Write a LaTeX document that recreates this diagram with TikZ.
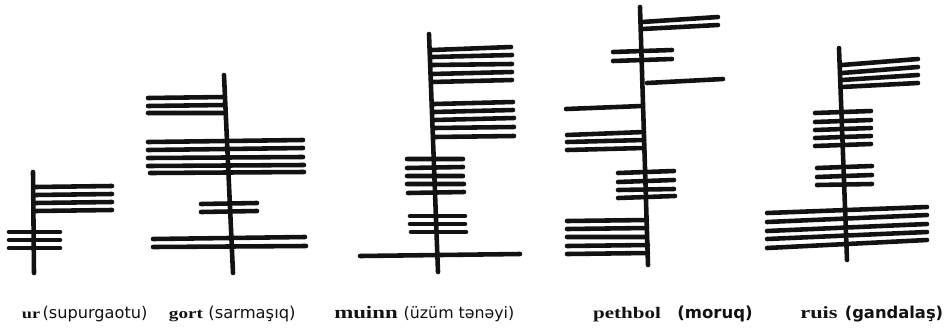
\documentclass[tikz,border=0pt]{standalone}
\usepackage{fontspec}
\usepackage{tikz}
\usetikzlibrary{calc}
\newfontfamily\adfont[FakeStretch=1.3]{Liberation Serif}
\newfontfamily\izahfont{DejaVu Sans}
\definecolor{murekkeb}{RGB}{18,18,18}
\tikzset{
	cizgi/.style={line width=2.6pt, line cap=round},
	ad/.style={font={\fontsize{#1}{#1}\selectfont\adfont\bfseries}, anchor=base, inner sep=0pt},
	izah/.style={font={\fontsize{#1}{#1}\selectfont\izahfont}, anchor=base, inner sep=0pt},
	izahb/.style={font={\fontsize{#1}{#1}\selectfont\izahfont\bfseries}, anchor=base, inner sep=0pt}
}

\begin{document}
\begin{tikzpicture}[murekkeb, x=0.02cm, y=-0.02cm]

    \useasboundingbox (0, 0) rectangle (944, 329);

				% ur
				\draw[cizgi] (33, 172) -- (34, 273);
				\draw[cizgi] (35, 187) -- (112, 186) (35, 195) -- (112, 194) (35, 203) -- (112, 202) (35, 211) -- (112, 210);
				\draw[cizgi] (9, 232) -- (60, 232) (9, 240) -- (60, 240) (9, 248) -- (60, 248);

				% gort
				\draw[cizgi] (224, 75) -- (233, 273);
				\draw[cizgi] (148, 98) -- (224, 97) (148, 106) -- (224, 105) (148, 113) -- (225, 113);
				\draw[cizgi] (148, 142) -- (303, 140) (148, 150) -- (303, 148) (148, 158) -- (303, 157) (148, 166) -- (304, 165) (150, 173) -- (304, 172);
				\draw[cizgi] (201, 204) -- (257, 203) (201, 212) -- (257, 211);
				\draw[cizgi] (153, 239) -- (305, 237) (153, 247) -- (306, 246);

				% muinn
				\draw[cizgi] (429, 34) -- (438, 272);
				\draw[cizgi] (432, 50) -- (511, 47) (432, 57) -- (512, 55) (432, 65) -- (512, 64) (432, 74) -- (512, 72) (432, 82) -- (512, 80);
				\draw[cizgi] (434, 104) -- (513, 102) (434, 112) -- (513, 110) (434, 120) -- (514, 118) (434, 128) -- (514, 127) (434, 137) -- (514, 136);
				\draw[cizgi] (407, 159) -- (463, 159) (407, 168) -- (463, 167) (407, 176) -- (463, 176) (407, 184) -- (464, 184) (408, 193) -- (464, 192);
				\draw[cizgi] (410, 216) -- (465, 216) (410, 224) -- (465, 224) (411, 232) -- (466, 232);
				\draw[cizgi] (360, 256) -- (520, 254);

				% pethbol
				\draw[cizgi] (640, 7) -- (648, 265);
				\draw[cizgi] (642, 22) -- (718, 17) (642, 29) -- (718, 25);
				\draw[cizgi] (613, 52) -- (672, 50) (613, 61) -- (672, 59);
				\draw[cizgi] (647, 83) -- (723, 79);
				\draw[cizgi] (566, 109) -- (642, 106);
				\draw[cizgi] (567, 135) -- (644, 132) (567, 142) -- (644, 140) (567, 150) -- (644, 148);
				\draw[cizgi] (618, 173) -- (674, 171) (618, 182) -- (674, 180) (618, 190) -- (674, 189) (618, 198) -- (675, 196);
				\draw[cizgi] (567, 221) -- (647, 220) (567, 229) -- (647, 228) (567, 237) -- (647, 237) (567, 246) -- (648, 245) (567, 254) -- (648, 253);

				% ruis
				\draw[cizgi] (839, 48) -- (847, 260);
				\draw[cizgi] (842, 65) -- (918, 59) (842, 73) -- (918, 67) (842, 80) -- (918, 75) (842, 87) -- (918, 83);
				\draw[cizgi] (815, 113) -- (871, 111) (815, 122) -- (871, 120) (815, 130) -- (871, 128) (815, 138) -- (871, 136) (815, 146) -- (871, 144);
				\draw[cizgi] (817, 168) -- (872, 166) (817, 177) -- (872, 175) (817, 185) -- (872, 184);
				\draw[cizgi] (767, 213) -- (927, 207) (767, 222) -- (927, 215) (767, 231) -- (927, 224) (767, 239) -- (927, 232) (767, 248) -- (927, 240);

				\node[ad=8] (urad) at (31, 318) {ur};
				\node[izah=9.2] (urizah) at (95, 318) {(supurgaotu)};
				\node[ad=8.4] (gortad) at (186, 318) {gort};
				\node[izah=9.3] (gortizah) at (252, 318) {(sarmaşıq)};
				\node[ad=10] (muinnad) at (366, 318) {muinn};
				\node[izah=9] (muinnizah) at (459, 318) {(üzüm tənəyi)};
				\node[ad=9.2] (pethbolad) at (627, 318) {pethbol};
				\node[izahb=9.4] (pethbolizah) at (715, 318) {(moruq)};
				\node[ad=9.8] (ruisad) at (819, 318) {ruis};
				\node[izahb=9.3] (ruisizah) at (894, 318) {(gandalaş)};

\end{tikzpicture}
\end{document}
